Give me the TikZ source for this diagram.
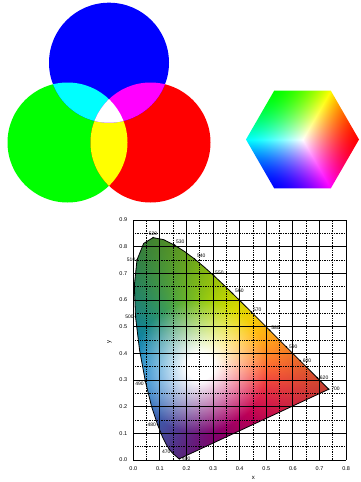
\documentclass[tikz,border=0pt]{standalone}
\usepackage{fontspec}
\setsansfont{Liberation Sans}
\usetikzlibrary{positioning}

\definecolor{addyellow}{rgb}{1,1,0}
\definecolor{addcyan}{rgb}{0,1,1}
\definecolor{addmagenta}{rgb}{1,0,1}

% hue round the white point, fading to white at the centre
\pgfdeclarefunctionalshading{cie}{\pgfpoint{-50bp}{-50bp}}{\pgfpoint{50bp}{50bp}}{}{
  0.018 mul 0.09987 add exch 0.016 mul 0.15011 add exch
  2 copy dup mul exch dup mul add sqrt
  1 index 3 index atan
  4 2 roll pop pop
  dup cos exch dup sin exch 2 mul dup cos exch sin
  3 index 0.4739 mul 0.5065 add 3 index 0.0491 mul add 2 index 0.0197 mul add 1 index 0.0678 mul add
  4 index -0.04525 mul 0.4395 add 4 index 0.3453 mul add 3 index 0.0161 mul add 2 index 0.1641 mul add
  5 index -0.2849 mul 0.384 add 5 index -0.191 mul add 4 index 0.09975 mul add 3 index -0.0198 mul add
  7 3 roll pop pop pop pop
  4 -1 roll
  dup 0.05 sub 0.2 div dup 0 lt {pop 0} if dup 1 gt {pop 1} if
  exch 0.25 sub 0.3 div dup 0 lt {pop 0} if dup 1 gt {pop 1} if -0.25 mul 1 add
  4 index 1 sub 2 index mul 1 add 1 index mul
  4 index 1 sub 3 index mul 1 add 2 index mul
  4 index 1 sub 4 index mul 1 add 3 index mul
  8 3 roll pop pop pop pop pop
}

% rgb cube seen from its white corner
\pgfdeclarefunctionalshading{cube}{\pgfpoint{-50bp}{-50bp}}{\pgfpoint{50bp}{50bp}}{}{
  1 index 0.026667 mul
  2 index -0.013333 mul 2 index 0.02 mul add
  3 index -0.013333 mul 3 index 0.02 mul sub
  5 3 roll pop pop
  3 copy 2 copy lt {exch} if pop 2 copy lt {exch} if pop
  1 exch sub
  exch 1 index add 3 1 roll
  exch 1 index add 3 1 roll
  4 3 roll add 3 1 roll
  dup 0 lt {pop 0} if 1.5 exp 3 1 roll
  dup 0 lt {pop 0} if 1.5 exp 3 1 roll
  dup 0 lt {pop 0} if 1.5 exp 3 1 roll
}

\def\locus{(0.1741,0.0050) -- (0.1733,0.0048) -- (0.1714,0.0051) -- (0.1689,0.0069)
  -- (0.1644,0.0109) -- (0.1566,0.0177) -- (0.1510,0.0227) -- (0.1440,0.0297)
  -- (0.1355,0.0399) -- (0.1241,0.0578) -- (0.1096,0.0868) -- (0.0913,0.1327)
  -- (0.0687,0.2007) -- (0.0454,0.2950) -- (0.0235,0.4127) -- (0.0082,0.5384)
  -- (0.0039,0.6548) -- (0.0139,0.7502) -- (0.0389,0.8120) -- (0.0743,0.8338)
  -- (0.1142,0.8262) -- (0.1547,0.8059) -- (0.1929,0.7816) -- (0.2296,0.7543)
  -- (0.2658,0.7243) -- (0.3016,0.6923) -- (0.3373,0.6589) -- (0.3731,0.6245)
  -- (0.4087,0.5896) -- (0.4441,0.5547) -- (0.4788,0.5202) -- (0.5125,0.4866)
  -- (0.5448,0.4544) -- (0.5752,0.4242) -- (0.6029,0.3965) -- (0.6270,0.3725)
  -- (0.6482,0.3514) -- (0.6658,0.3340) -- (0.6915,0.3083) -- (0.7079,0.2920)
  -- (0.7190,0.2809) -- (0.7260,0.2740) -- (0.7300,0.2700) -- (0.7347,0.2653) -- cycle}

\begin{document}
\begin{tikzpicture}[x=1pt, y=-1pt,
  major/.style={line width=0.9pt},
  minor/.style={line width=0.8pt, dash pattern=on 0.8pt off 0.9pt},
  tick/.style={font=\sffamily\fontsize{5.5}{6}\selectfont, inner sep=0pt},
  wl/.style={font=\sffamily\fontsize{5}{5.5}\selectfont, inner sep=0.5pt}]
  \fill[white] (0,0) rectangle (360,482);
  \useasboundingbox (0,0) rectangle (360,482);

  % additive circles
  \coordinate (cb) at (109,62.7);
  \coordinate (cg) at (67.5,142.5);
  \coordinate (cr) at (150.5,142.5);
  \fill[green] (cg) circle (60);
  \fill[red] (cr) circle (60);
  \fill[blue] (cb) circle (60);
  \begin{scope}
    \clip (cg) circle (60);
    \fill[addyellow] (cr) circle (60);
    \fill[addcyan] (cb) circle (60);
  \end{scope}
  \begin{scope}
    \clip (cb) circle (60);
    \fill[addmagenta] (cr) circle (60);
  \end{scope}
  \begin{scope}
    \clip (cg) circle (60);
    \clip (cr) circle (60);
    \fill[white] (cb) circle (60);
  \end{scope}

  % hexagon
  \begin{scope}[shift={(302.5,139.5)}, x=56.5pt, y=56.5pt]
    \shade[shading=cube] (0:1) -- (60:1) -- (120:1) -- (180:1) -- (240:1) -- (300:1) -- cycle;
  \end{scope}

  % chromaticity chart
  \begin{scope}[shift={(133.3,460)}, x=266pt, y=266.7pt]
    \begin{scope}
      \clip \locus;
      \shade[shading=cie] (0,0) rectangle (0.8,0.9);
    \end{scope}
    \foreach \i in {0,...,7}
      \draw[minor] (\i/10+0.05,0) -- (\i/10+0.05,0.9);
    \foreach \i in {0,...,8}
      \draw[minor] (0,\i/10+0.05) -- (0.8,\i/10+0.05);
    \foreach \i in {0,...,8} {
      \draw[major] (\i/10,0) -- (\i/10,0.9);
      \node[tick, below=6pt] (tx\i) at (\i/10,0) {0.\i};
    }
    \foreach \i in {0,...,9} {
      \draw[major] (0,\i/10) -- (0.8,\i/10);
      \node[tick, left=6pt] (ty\i) at (0,\i/10) {0.\i};
    }
    \node[tick, font=\sffamily\fontsize{6}{6}\selectfont] (xlab) at (0.451,-0.066) {x};
    \node[tick, font=\sffamily\fontsize{6}{6}\selectfont, rotate=90] (ylab) at (-0.09,0.444) {y};

    \draw[line width=0.8pt, line join=round] \locus;

    \coordinate (w400) at (0.1733,0.0048);
    \coordinate (w470) at (0.1241,0.0578);
    \coordinate (w480) at (0.0913,0.1327);
    \coordinate (w490) at (0.0454,0.2950);
    \coordinate (w500) at (0.0082,0.5384);
    \coordinate (w510) at (0.0139,0.7502);
    \coordinate (w520) at (0.0743,0.8338);
    \coordinate (w530) at (0.1547,0.8059);
    \coordinate (w540) at (0.2296,0.7543);
    \coordinate (w550) at (0.3016,0.6923);
    \coordinate (w560) at (0.3731,0.6245);
    \coordinate (w570) at (0.4441,0.5547);
    \coordinate (w580) at (0.5125,0.4866);
    \coordinate (w590) at (0.5752,0.4242);
    \coordinate (w600) at (0.6270,0.3725);
    \coordinate (w620) at (0.6915,0.3083);
    \coordinate (w700) at (0.7347,0.2653);
    \foreach \w in {400,480,490,500,510,520,530,540,550,560,570,580,590,600,620,700}
      \fill (w\w) circle (0.9pt);

    \node[wl, above=1pt of w520] (l520) {520};
    \node[wl, above right=0.5pt and 1pt of w530] (l530) {530};
    \node[wl, above right=0.5pt and 2pt of w540] (l540) {540};
    \node[wl, above right=0pt and 1pt of w550] (l550) {550};
    \node[wl, above right=0pt and 2pt of w560] (l560) {560};
    \node[wl, above right=0pt and 1pt of w570] (l570) {570};
    \node[wl, above right=0pt and 1pt of w580] (l580) {580};
    \node[wl, right=2pt of w590] (l590) {590};
    \node[wl, right=2pt of w600] (l600) {600};
    \node[wl, right=2pt of w620] (l620) {620};
    \node[wl, right=2pt of w700] (l700) {700};
    \node[wl, left=1pt of w510] (l510) {510};
    \node[wl, left=1pt of w500] (l500) {500};
    \node[wl, below left=0pt and 1pt of w490] (l490) {490};
    \node[wl, left=1pt of w480] (l480) {480};
    \node[wl, below=5pt of w470] (l470) {470};
    \node[wl, right=2pt of w400] (l400) {400};
  \end{scope}
\end{tikzpicture}
\end{document}
